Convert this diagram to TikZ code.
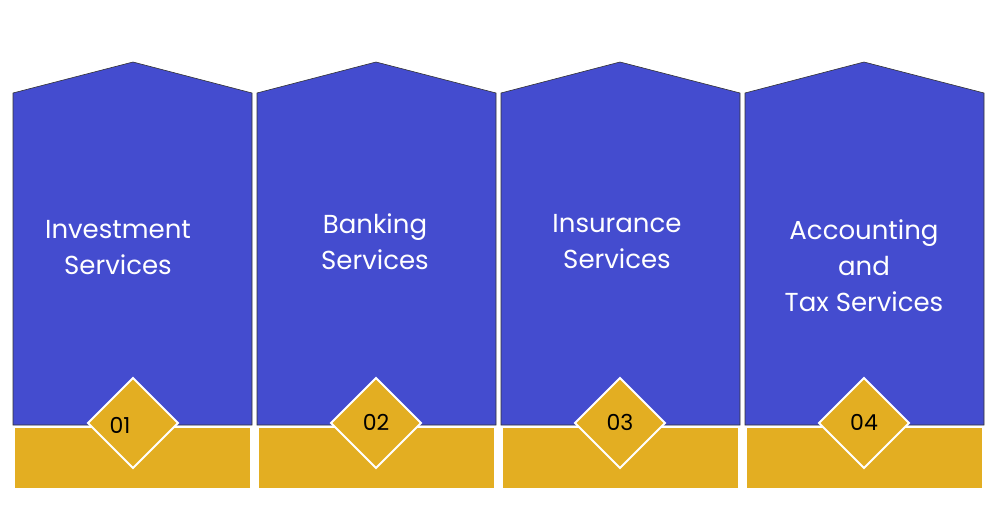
\documentclass[tikz,border=0pt]{standalone}
\usepackage{fontspec}
\setmainfont{Poppins}
\definecolor{pblue}{HTML}{444CCF}
\definecolor{pyel}{HTML}{E3AE22}
\begin{document}
\begin{tikzpicture}[x=1pt,y=-1pt,
  house/.style={fill=pblue,draw=black!80,line width=0.6pt},
  base/.style={fill=pyel},
  dia/.style={fill=pyel,draw=white,line width=1.8pt},
  lbl/.style={text=white,font=\fontsize{26}{36}\selectfont,align=center},
  num/.style={font=\fontsize{22}{26}\selectfont,text=black}]
\useasboundingbox (0,0) rectangle (998,516);
\foreach \i/\l/\r/\c in {1/13/252/133,2/257/496/376,3/501/740/620,4/745/984/864}{
  \draw[house] (\l,93) -- (\c,62) -- (\r,93) -- (\r,425) -- (\l,425) -- cycle;
  \fill[base] (\l+2,428) rectangle (\r-2,488);
  \draw[dia] (\c,378) -- (\c+45,423) -- (\c,468) -- (\c-45,423) -- cycle;
}
\node[num] (n1) at (120,425) {01};
\node[num] (n2) at (376,422) {02};
\node[num] (n3) at (620,422) {03};
\node[num] (n4) at (864,422) {04};
\node[lbl] (t1) at (118,248) {Investment\\Services};
\node[lbl] (t2) at (375,242) {Banking\\Services};
\node[lbl] (t3) at (617,242) {Insurance\\Services};
\node[lbl] (t4) at (864,266) {Accounting\\and\\Tax Services};
\end{tikzpicture}
\end{document}
